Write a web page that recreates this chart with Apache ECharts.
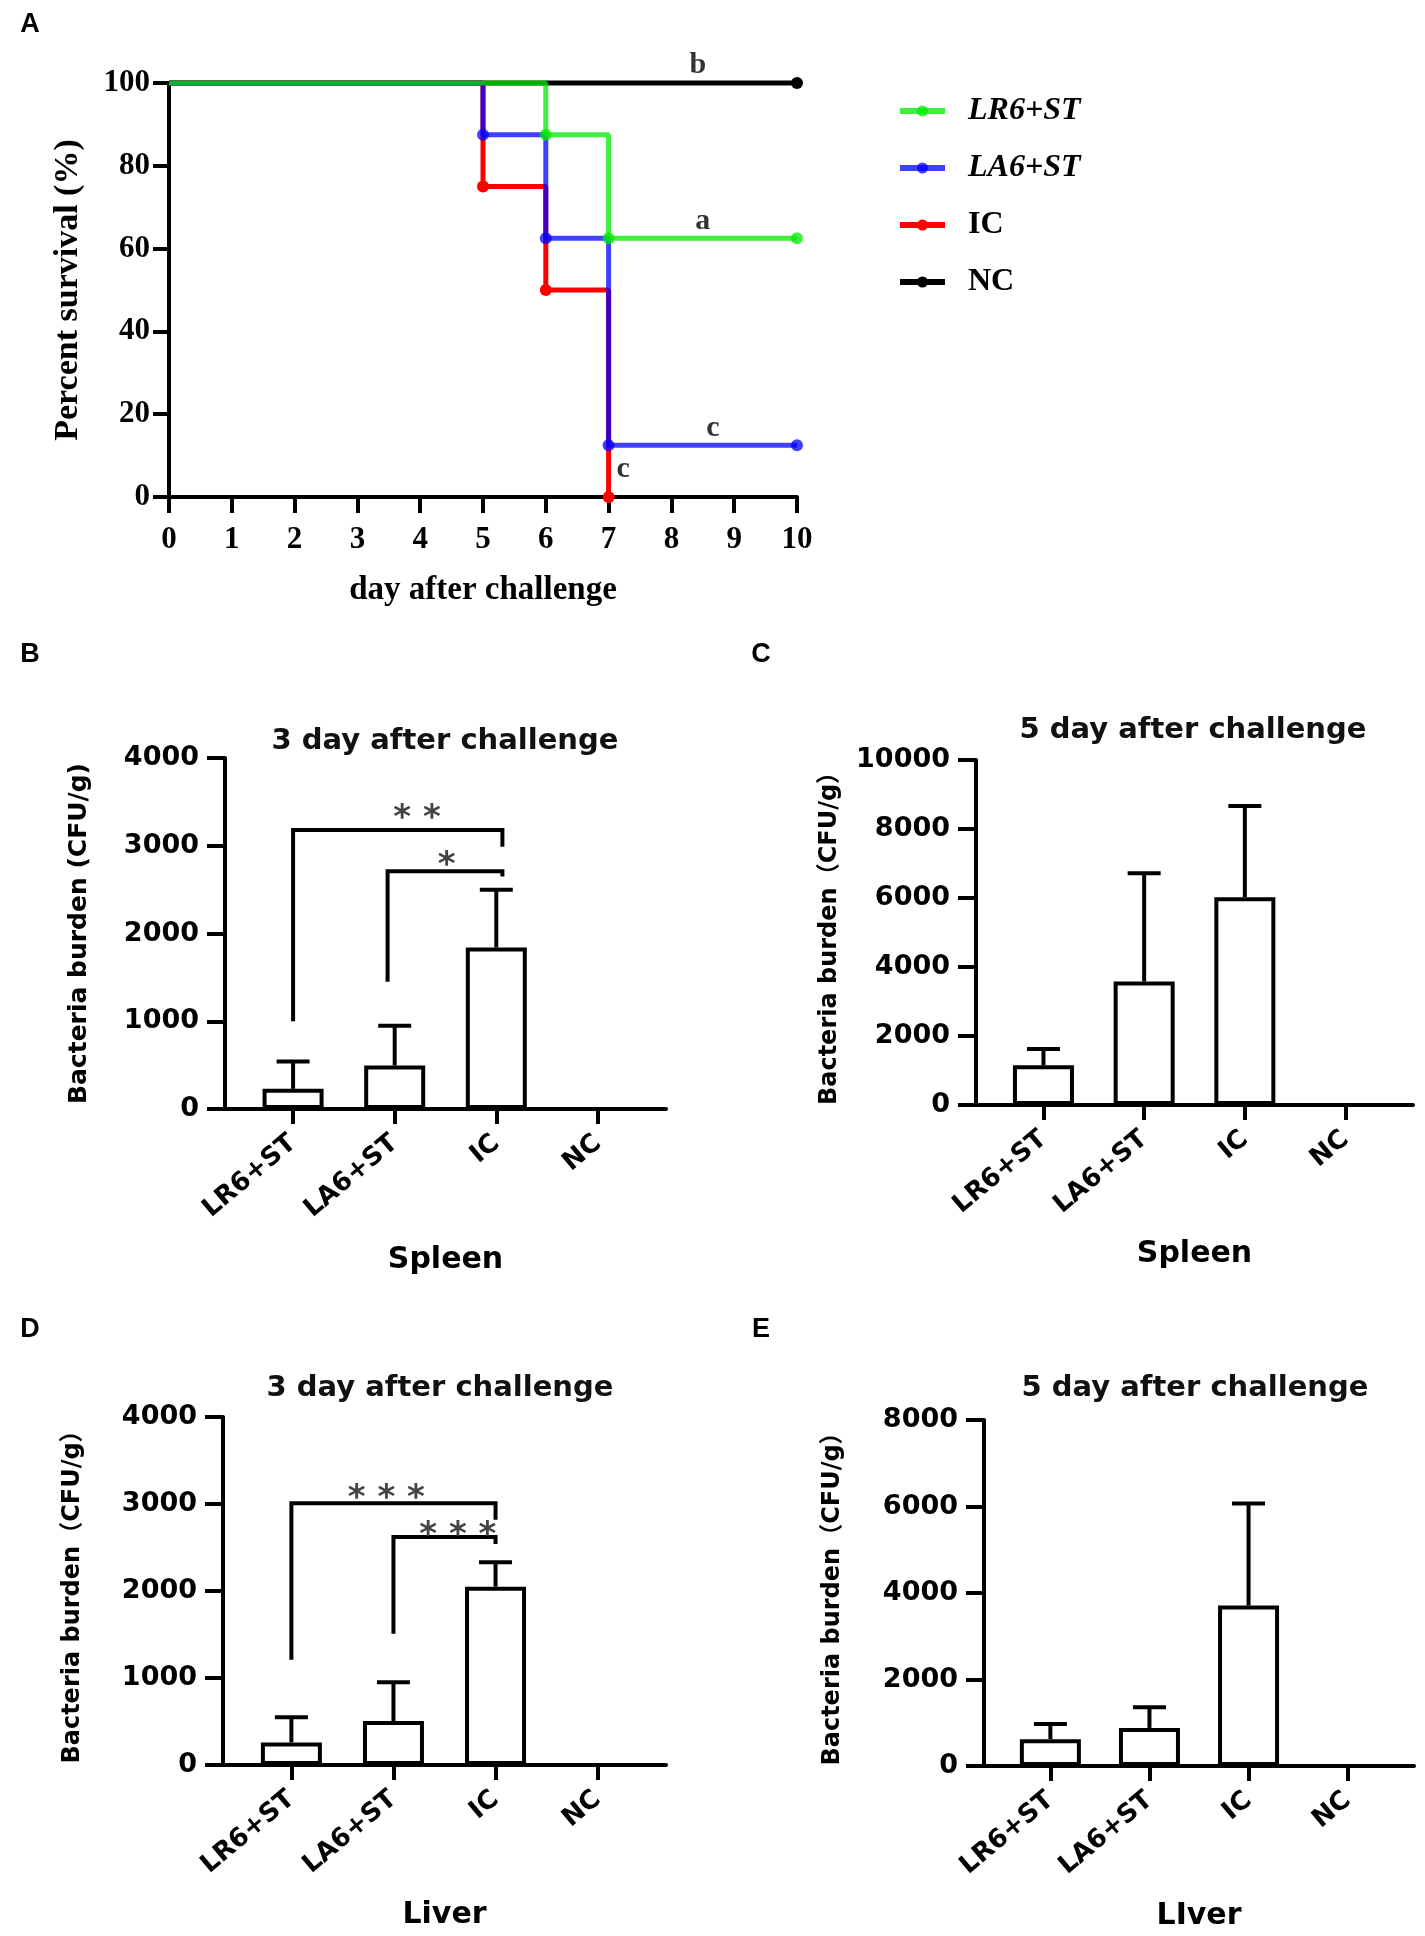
<!DOCTYPE html>
<html>
<head>
<meta charset="utf-8">
<title>Survival and bacteria burden</title>
<script src="https://cdn.jsdelivr.net/npm/echarts@6/dist/echarts.min.js"></script>
<style>
  html, body { margin: 0; padding: 0; background: #fff; }
  #main { width: 1425px; height: 1936px; }
</style>
</head>
<body>
<div id="main"></div>
<script>
// ---- data ----
var days = [0, 1, 2, 3, 4, 5, 6, 7, 8, 9, 10];
var survLR6 = [100, 100, 100, 100, 100, 100, 87.5, 62.5, 62.5, 62.5, 62.5];
var survLA6 = [100, 100, 100, 100, 100, 87.5, 62.5, 12.5, 12.5, 12.5, 12.5];
var survIC = [100, 100, 100, 100, 100, 75, 50, 0, null, null, null];
var survNC = [100, 100, 100, 100, 100, 100, 100, 100, 100, 100, 100];
var survLetters = ['a', 'c', 'c', 'b']; // LR6, LA6, IC, NC

var groups = ['LR6+ST', 'LA6+ST', 'IC', 'NC'];

var spleen3Mean = [230, 495, 1840, 0];
var spleen3Sd = [310, 455, 660, 0];
var spleen5Mean = [1150, 3580, 6025, 0];
var spleen5Sd = [470, 3140, 2645, 0];
var liver3Mean = [260, 505, 2050, 0];
var liver3Sd = [290, 445, 280, 0];
var liver5Mean = [620, 880, 3710, 0];
var liver5Sd = [350, 480, 2360, 0];

// brackets: [x left, x right, y left end, y top, y right end, star x, star y]
var spleen3Brackets = [[0, 2.06, 1000, 3180, 2990, 1.22, 3410], [0.93, 2.06, 1450, 2710, 2650, 1.51, 2875]];
var spleen3Stars = ['* *', '*'];
var liver3Brackets = [[0, 2, 1210, 3010, 2820, 0.93, 3160], [1, 2, 1510, 2620, 2540, 1.63, 2730]];
var liver3Stars = ['* * *', '* * *'];

// ---- styles ----
var SERIF = '"Liberation Serif", "Times New Roman", serif';
var SANS = '"DejaVu Sans", Verdana, "Noto Sans CJK SC", sans-serif';
var ARIAL = '"Liberation Sans", Arial, sans-serif';

var myChart = echarts.init(document.getElementById('main'), null, { renderer: 'canvas' });

function plain(v) { return String(v); }

function kmData(vals) {
    var last = -1;
    vals.forEach(function (v, i) { if (v != null) last = i; });
    var out = [];
    vals.forEach(function (v, i) {
        if (v == null) return;
        var drop = i > 0 && v < vals[i - 1];
        out.push({ value: [days[i], v], symbol: (drop || i === last) ? 'circle' : 'none' });
    });
    return out;
}
function lastValue(vals) {
    var r = null;
    vals.forEach(function (v) { if (v != null) r = v; });
    return r;
}

function kmSeries(name, vals, color, z) {
    return {
        name: name,
        type: 'line',
        xAxisIndex: 0, yAxisIndex: 0,
        step: 'end',
        data: kmData(vals),
        symbol: 'circle',
        symbolSize: 12,
        clip: false,
        z: z,
        lineStyle: { color: color, width: 5 },
        itemStyle: { color: color }
    };
}

function barX(gi, name, gap) {
    return {
        type: 'value', gridIndex: gi, min: -0.67, max: 3.67,
        axisLine: { show: true, onZero: false, lineStyle: { color: '#000', width: 4 } },
        axisTick: { show: true, customValues: [0, 1, 2, 3], length: 15, lineStyle: { color: '#000', width: 4 } },
        axisLabel: {
            customValues: [0, 1, 2, 3],
            formatter: function (v) { return groups[Math.round(v)]; },
            rotate: 40, margin: 31, color: '#000',
            fontFamily: SANS, fontSize: 26, fontWeight: 'bold'
        },
        splitLine: { show: false },
        name: name, nameLocation: 'middle', nameGap: gap,
        nameTextStyle: { fontFamily: SANS, fontSize: 30, fontWeight: 'bold', color: '#000' }
    };
}

function barY(gi, max, interval, name, gap, nameSize) {
    return {
        type: 'value', gridIndex: gi, min: 0, max: max, interval: interval,
        axisLine: { show: true, onZero: false, lineStyle: { color: '#000', width: 4 } },
        axisTick: { show: true, length: 18, lineStyle: { color: '#000', width: 4 } },
        axisLabel: { margin: 26, color: '#000', fontFamily: SANS, fontSize: 27, fontWeight: 'bold', formatter: plain },
        splitLine: { show: false },
        name: name, nameLocation: 'middle', nameRotate: 90, nameGap: gap,
        nameTextStyle: { fontFamily: SANS, fontSize: nameSize, fontWeight: 'bold', color: '#000' }
    };
}

function barSeries(gi, means) {
    return {
        type: 'bar', xAxisIndex: gi, yAxisIndex: gi,
        data: means.map(function (m, i) { return [i, m]; }),
        barWidth: 61,
        itemStyle: { color: '#fff', borderColor: '#000', borderWidth: 4 },
        z: 2
    };
}

function errSeries(gi, means, sds) {
    return {
        type: 'custom', xAxisIndex: gi, yAxisIndex: gi,
        data: means.map(function (m, i) { return [i, m, m + sds[i]]; }),
        z: 3,
        renderItem: function (params, api) {
            if (!(api.value(2) > api.value(1))) return { type: 'group', children: [] };
            var p0 = api.coord([api.value(0), api.value(1)]);
            var p1 = api.coord([api.value(0), api.value(2)]);
            var st = { stroke: '#000', lineWidth: 4 };
            return {
                type: 'group', children: [
                    { type: 'line', shape: { x1: p0[0], y1: p0[1], x2: p1[0], y2: p1[1] }, style: st },
                    { type: 'line', shape: { x1: p1[0] - 16.5, y1: p1[1], x2: p1[0] + 16.5, y2: p1[1] }, style: st }
                ]
            };
        }
    };
}

function bracketSeries(gi, rows, stars) {
    return {
        type: 'custom', xAxisIndex: gi, yAxisIndex: gi,
        data: rows,
        z: 4,
        renderItem: function (params, api) {
            var a = api.coord([api.value(0), api.value(2)]);
            var b = api.coord([api.value(0), api.value(3)]);
            var c = api.coord([api.value(1), api.value(3)]);
            var d = api.coord([api.value(1), api.value(4)]);
            var s = api.coord([api.value(5), api.value(6)]);
            return {
                type: 'group', children: [
                    { type: 'polyline', shape: { points: [a, b, c, d] }, style: { stroke: '#000', lineWidth: 4, fill: null } },
                    { type: 'text', x: s[0], y: s[1] + 9, style: {
                        text: stars[params.dataIndex], align: 'center', verticalAlign: 'middle',
                        fontFamily: SANS, fontSize: 34, fontWeight: 'bold', fill: '#444'
                    } }
                ]
            };
        }
    };
}

var letterX = [8.5, 8.66, 7.23, 8.42];
var letterDist = [2, 2, 12, 2];
var finals = [survLR6, survLA6, survIC, survNC].map(lastValue);

var letterStyle = { fontFamily: ARIAL, fontSize: 27, fontWeight: 'bold', color: '#000' };
var titleStyle = { fontFamily: SANS, fontSize: 29, fontWeight: 'bold', color: '#111' };

var option = {
    animation: false,
    backgroundColor: '#fff',
    title: [
        { text: 'A', left: 30, top: 11, textAlign: 'center', padding: 0, textStyle: letterStyle },
        { text: 'B', left: 30, top: 641, textAlign: 'center', padding: 0, textStyle: letterStyle },
        { text: 'C', left: 761, top: 641, textAlign: 'center', padding: 0, textStyle: letterStyle },
        { text: 'D', left: 30, top: 1316, textAlign: 'center', padding: 0, textStyle: letterStyle },
        { text: 'E', left: 761, top: 1316, textAlign: 'center', padding: 0, textStyle: letterStyle },
        { text: '3 day after challenge', left: 445, top: 727, textAlign: 'center', padding: 0, textStyle: titleStyle },
        { text: '5 day after challenge', left: 1193, top: 716, textAlign: 'center', padding: 0, textStyle: titleStyle },
        { text: '3 day after challenge', left: 440, top: 1374, textAlign: 'center', padding: 0, textStyle: titleStyle },
        { text: '5 day after challenge', left: 1195, top: 1374, textAlign: 'center', padding: 0, textStyle: titleStyle }
    ],
    legend: {
        data: ['LR6+ST', 'LA6+ST', 'IC', 'NC'],
        orient: 'vertical',
        left: 892, top: 90,
        itemWidth: 45, itemHeight: 14, itemGap: 25,
        lineStyle: { width: 6 },
        formatter: function (name) {
            return (name === 'IC' || name === 'NC') ? '{n|' + name + '}' : '{i|' + name + '}';
        },
        textStyle: {
            color: '#000',
            rich: {
                i: { fontFamily: SERIF, fontSize: 32, fontWeight: 'bold', fontStyle: 'italic', color: '#000', padding: [0, 0, 0, 18] },
                n: { fontFamily: SERIF, fontSize: 32, fontWeight: 'bold', color: '#000', padding: [0, 0, 0, 18] }
            }
        }
    },
    grid: [
        { left: 169, top: 83, width: 628, height: 414 },
        { left: 225, top: 758, width: 441, height: 351 },
        { left: 976, top: 760, width: 437, height: 345 },
        { left: 223, top: 1417, width: 443, height: 348 },
        { left: 984, top: 1420, width: 430, height: 346 }
    ],
    xAxis: [
        {
            type: 'value', gridIndex: 0, min: 0, max: 10, interval: 1,
            axisLine: { show: true, onZero: false, lineStyle: { color: '#000', width: 4 } },
            axisTick: { show: true, length: 16, lineStyle: { color: '#000', width: 4 } },
            axisLabel: { margin: 27, color: '#000', fontFamily: SERIF, fontSize: 31, fontWeight: 'bold' },
            splitLine: { show: false },
            name: 'day after challenge', nameLocation: 'middle', nameGap: 77,
            nameTextStyle: { fontFamily: SERIF, fontSize: 33, fontWeight: 'bold', color: '#000' }
        },
        barX(1, 'Spleen', 136),
        barX(2, 'Spleen', 134),
        barX(3, 'Liver', 135),
        barX(4, 'LIver', 135)
    ],
    yAxis: [
        {
            type: 'value', gridIndex: 0, min: 0, max: 100, interval: 20,
            axisLine: { show: true, onZero: false, lineStyle: { color: '#000', width: 4 } },
            axisTick: { show: true, length: 16, lineStyle: { color: '#000', width: 4 } },
            axisLabel: { margin: 19, color: '#000', fontFamily: SERIF, fontSize: 31, fontWeight: 'bold' },
            splitLine: { show: false },
            name: 'Percent survival (%)', nameLocation: 'middle', nameRotate: 90, nameGap: 84,
            nameTextStyle: { fontFamily: SERIF, fontSize: 34, fontWeight: 'bold', color: '#000' }
        },
        barY(1, 4000, 1000, 'Bacteria burden (CFU/g)', 133, 25),
        barY(2, 10000, 2000, 'Bacteria burden（CFU/g）', 134, 24),
        barY(3, 4000, 1000, 'Bacteria burden（CFU/g）', 138, 24),
        barY(4, 8000, 2000, 'Bacteria burden（CFU/g）', 139, 24)
    ],
    series: [
        kmSeries('NC', survNC, '#000000', 2),
        kmSeries('IC', survIC, '#ff0000', 3),
        kmSeries('LA6+ST', survLA6, 'rgba(0,0,255,0.75)', 4),
        kmSeries('LR6+ST', survLR6, 'rgba(0,235,0,0.75)', 5),
        {
            type: 'scatter', xAxisIndex: 0, yAxisIndex: 0, symbolSize: 1, z: 6,
            itemStyle: { color: 'rgba(0,0,0,0)' },
            data: finals.map(function (v, i) {
                return { value: [letterX[i], v], label: { distance: letterDist[i] } };
            }),
            label: {
                show: true, position: 'top',
                formatter: function (p) { return survLetters[p.dataIndex]; },
                fontFamily: SERIF, fontSize: 30, fontWeight: 'bold', color: '#000'
            }
        },
        barSeries(1, spleen3Mean), errSeries(1, spleen3Mean, spleen3Sd), bracketSeries(1, spleen3Brackets, spleen3Stars),
        barSeries(2, spleen5Mean), errSeries(2, spleen5Mean, spleen5Sd),
        barSeries(3, liver3Mean), errSeries(3, liver3Mean, liver3Sd), bracketSeries(3, liver3Brackets, liver3Stars),
        barSeries(4, liver5Mean), errSeries(4, liver5Mean, liver5Sd)
    ]
};
myChart.setOption(option);
window.addEventListener("resize", function () {
    myChart.resize();
});
</script>
</body>
</html>
